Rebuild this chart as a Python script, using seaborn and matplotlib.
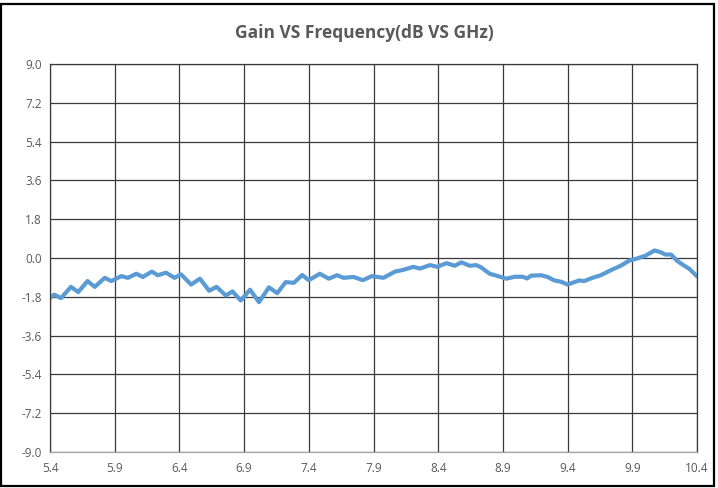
import numpy as np
import pandas as pd
import seaborn as sns
import matplotlib.pyplot as plt
from matplotlib.patches import Rectangle

# values
freq_ghz = [5.400, 5.433, 5.485, 5.562, 5.618, 5.690, 5.746, 5.823, 5.874, 5.951,
            6.002, 6.067, 6.118, 6.187, 6.233, 6.297, 6.362, 6.413, 6.490, 6.559,
            6.630, 6.687, 6.759, 6.810, 6.874, 6.946, 7.015, 7.092, 7.156, 7.221,
            7.285, 7.349, 7.400, 7.485, 7.554, 7.618, 7.669, 7.746, 7.818, 7.887,
            7.977, 8.067, 8.131, 8.208, 8.259, 8.336, 8.392, 8.464, 8.528, 8.579,
            8.644, 8.695, 8.733, 8.798, 8.862, 8.926, 8.990, 9.054, 9.087, 9.118,
            9.195, 9.246, 9.297, 9.349, 9.400, 9.490, 9.528, 9.592, 9.656, 9.733,
            9.810, 9.874, 9.938, 10.003, 10.072, 10.118, 10.156, 10.200, 10.246,
            10.292, 10.340, 10.400]
gain_db = [-1.86, -1.70, -1.86, -1.34, -1.58, -1.07, -1.34, -0.92, -1.07, -0.84,
           -0.92, -0.73, -0.88, -0.63, -0.80, -0.68, -0.92, -0.76, -1.23, -0.96,
           -1.52, -1.34, -1.74, -1.55, -1.97, -1.47, -2.05, -1.36, -1.63, -1.12,
           -1.15, -0.79, -1.03, -0.73, -0.96, -0.80, -0.92, -0.88, -1.03, -0.84,
           -0.92, -0.63, -0.55, -0.41, -0.49, -0.33, -0.41, -0.24, -0.36, -0.20,
           -0.36, -0.33, -0.44, -0.73, -0.84, -0.96, -0.87, -0.87, -0.95, -0.82,
           -0.80, -0.88, -1.04, -1.10, -1.23, -1.04, -1.07, -0.92, -0.80, -0.57,
           -0.36, -0.13, -0.02, 0.11, 0.35, 0.27, 0.16, 0.16, -0.13,
           -0.32, -0.50, -0.85]

x_ticks = [5.4, 5.9, 6.4, 6.9, 7.4, 7.9, 8.4, 8.9, 9.4, 9.9, 10.4]
y_ticks = [-9.0, -7.2, -5.4, -3.6, -1.8, 0.0, 1.8, 3.6, 5.4, 7.2, 9.0]

df = pd.DataFrame({"freq": freq_ghz, "gain": gain_db})

sns.set_style("white")
plt.rcParams['font.family'] = ['Open Sans', 'DejaVu Sans']

fig = plt.figure(figsize=(7.18, 4.88), dpi=100)
ax = fig.add_axes([50 / 718, 1 - 452 / 488, 647 / 718, 388 / 488])

sns.lineplot(data=df, x="freq", y="gain", ax=ax, color="#5B9BD5", linewidth=3,
             solid_joinstyle="round", solid_capstyle="round")

ax.set_xlim(5.4, 10.4)
ax.set_ylim(-9.0, 9.0)
ax.set_xticks(x_ticks)
ax.set_yticks(y_ticks)
ax.set_xticklabels([f"{t:.1f}" for t in x_ticks])
ax.set_yticklabels([f"{t:.1f}" for t in y_ticks])
ax.grid(True, color="#3a3a3a", linewidth=0.9)
ax.set_axisbelow(True)
for s in ax.spines.values():
    s.set_color("#3a3a3a")
    s.set_linewidth(0.9)
ax.spines["bottom"].set_color("#a6a6a6")
ax.tick_params(axis="both", length=0, labelsize=8.5, labelcolor="#595959")
ax.tick_params(axis="x", pad=7)
ax.tick_params(axis="y", pad=6)
ax.set_xlabel("")
ax.set_ylabel("")

fig.text(0.508, 1 - 33 / 488, "Gain VS Frequency(dB VS GHz)", ha="center", va="center",
         fontsize=12.5, fontweight="bold", color="#595959")

# chart frame
fig.patches.append(Rectangle((0.002, 0.004), 0.993, 0.988, transform=fig.transFigure,
                             fill=False, edgecolor="black", linewidth=1.6))

fig.savefig("out.png", dpi=100)
